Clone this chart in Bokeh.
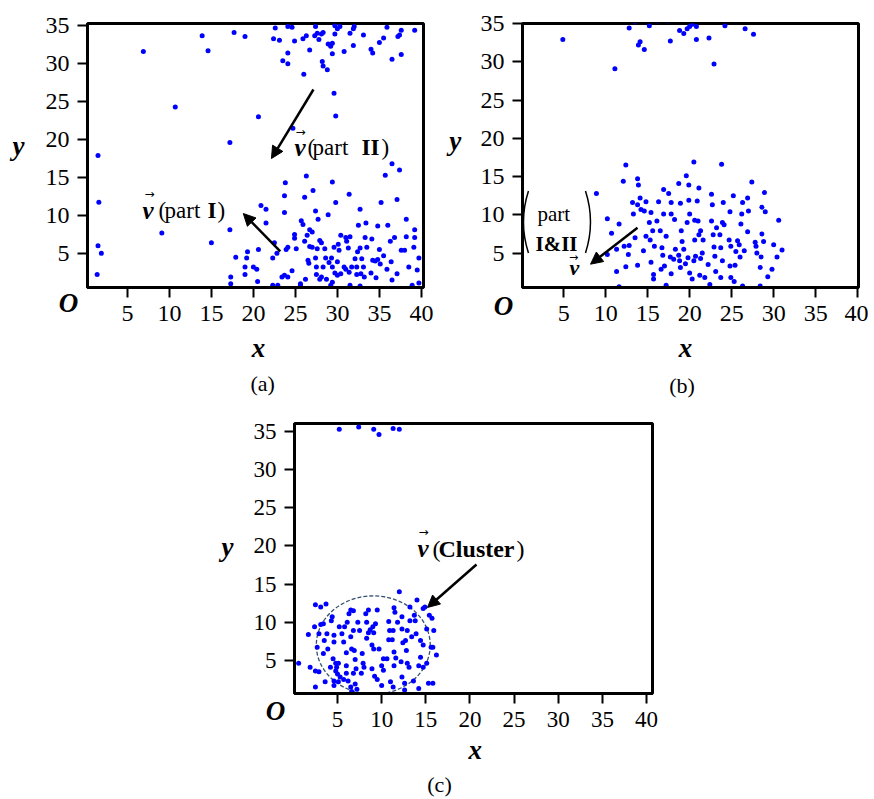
from bokeh.plotting import figure
from bokeh.models import Label, Arrow, NormalHead, FixedTicker, Spacer, ColumnDataSource
from bokeh.layouts import column, row
from bokeh.embed import file_html
from bokeh.resources import INLINE

# ---------------- data ----------------
X_TICKS = [5, 10, 15, 20, 25, 30, 35, 40]
Y_TICKS = [5, 10, 15, 20, 25, 30, 35]

# panel (a)
a_outliers = [(1.5, 17.9), (1.6, 11.75), (1.5, 6.0), (1.9, 5.0), (1.4, 2.2), (6.9, 31.6),
              (10.7, 24.3), (9.1, 7.7), (13.9, 33.7), (14.6, 31.7), (15.0, 6.4), (17.7, 34.1),
              (19.0, 33.6), (17.2, 19.6), (17.2, 8.1), (20.6, 23.0), (29.6, 26.1), (29.8, 23.1),
              (24.7, 21.5)]
a_top = [(22.6, 34.7), (23.1, 33.1), (22.4, 33.3), (24.1, 34.9), (24.6, 34.8), (24.9, 33.0),
         (24.1, 31.4), (23.5, 30.4), (24.1, 30.0), (26.0, 28.6), (25.9, 33.3), (26.3, 33.7),
         (26.7, 31.8), (27.3, 33.7), (27.6, 34.0), (27.8, 33.2), (28.1, 33.9), (28.3, 34.1),
         (27.4, 34.9), (28.2, 30.3), (28.3, 29.7), (28.8, 29.2), (28.9, 32.6), (29.2, 32.3),
         (29.4, 32.7), (29.4, 31.3), (29.7, 33.9), (30.0, 34.6), (30.3, 34.9), (29.7, 35.0),
         (30.8, 31.6), (31.5, 34.0), (31.9, 34.6), (32.0, 34.9), (31.9, 32.4), (33.1, 33.8),
         (34.0, 31.9), (34.2, 31.4), (35.0, 32.8), (35.5, 33.4), (35.9, 34.8), (36.5, 30.6),
         (37.2, 33.6), (37.4, 33.8), (37.6, 34.4), (37.6, 31.2), (39.2, 34.4)]
a_low = [(20.9, 11.3), (21.5, 10.8), (21.5, 9.0), (23.8, 14.3), (23.7, 12.6), (23.7, 10.4),
         (26.3, 15.2), (26.1, 12.4), (27.1, 13.3), (27.4, 10.6), (27.7, 9.5), (28.9, 10.1),
         (29.4, 14.4), (29.8, 11.7), (31.4, 12.8), (32.7, 10.8), (33.4, 9.0), (35.2, 11.7),
         (35.7, 15.3), (36.5, 16.8), (37.4, 16.0), (37.1, 12.1), (38.2, 9.5), (39.2, 8.1),
         (34.8, 8.6), (36.0, 8.7), (32.5, 8.7), (25.7, 9.3), (25.9, 8.8), (26.7, 8.1),
         (27.0, 7.8), (27.6, 5.6), (24.9, 7.5), (24.9, 7.0), (25.1, 5.6), (26.1, 6.6),
         (26.4, 7.4), (26.7, 5.9), (27.0, 5.8), (27.9, 6.7), (28.1, 6.4), (28.5, 5.6),
         (28.6, 4.4), (27.4, 4.4), (27.5, 3.2), (26.6, 3.7), (26.5, 4.1), (28.3, 3.2),
         (28.1, 1.9), (29.0, 3.8), (29.3, 4.4), (29.4, 3.2), (29.7, 2.4), (30.0, 3.9),
         (30.2, 5.4), (30.1, 6.2), (30.4, 7.4), (31.0, 7.1), (31.1, 6.6), (31.5, 7.2),
         (31.3, 5.7), (30.8, 3.2), (31.0, 2.9), (31.4, 2.5), (31.7, 3.2), (32.1, 4.3),
         (32.3, 3.2), (32.4, 5.2), (32.7, 5.7), (32.9, 4.3), (33.3, 7.1), (33.5, 5.8),
         (33.1, 3.2), (32.8, 2.3), (33.2, 1.9), (34.1, 6.9), (34.2, 4.1), (34.5, 4.0),
         (34.8, 4.2), (35.1, 3.6), (34.6, 1.8), (34.0, 2.4), (35.0, 5.5), (35.5, 4.7),
         (35.9, 2.9), (36.3, 6.6), (36.4, 3.9), (36.8, 7.1), (37.1, 2.3), (36.5, 1.5),
         (37.6, 5.4), (38.0, 5.4), (38.2, 7.2), (38.5, 3.2), (39.2, 7.1), (39.1, 5.8),
         (39.5, 2.8), (39.7, 4.4), (39.7, 1.1), (38.9, 0.8), (31.5, 0.8), (32.7, 0.7),
         (29.2, 0.8), (29.4, 1.2), (25.6, 1.0), (25.6, 0.8), (24.6, 2.7), (24.1, 1.9),
         (23.7, 2.1), (23.4, 1.9), (22.9, 0.8), (22.3, 0.8), (22.3, 4.4), (22.8, 5.0),
         (23.9, 5.5), (24.1, 5.8), (22.5, 6.4), (20.6, 5.5), (19.3, 5.2), (19.2, 4.4),
         (17.9, 4.5), (19.0, 3.2), (20.0, 3.2), (20.4, 2.9), (19.0, 2.2), (20.5, 1.3),
         (17.3, 1.9), (17.3, 1.0), (27.5, 2.2), (27.9, 1.6), (26.2, 1.6), (28.7, 1.6),
         (30.0, 2.1), (30.4, 2.3), (32.3, 2.2), (29.6, 5.8)]

# panel (b)
b_top = [(4.9, 32.9), (11.1, 29.1), (12.8, 34.4), (14.1, 32.6), (13.9, 32.2), (14.6, 31.6),
         (15.2, 34.7), (16.2, 35.3), (17.7, 32.7), (18.8, 34.1), (19.3, 33.7), (19.7, 34.3),
         (20.0, 34.6), (20.3, 34.9), (20.8, 34.6), (20.8, 32.9), (22.3, 33.1), (22.9, 29.7),
         (24.2, 34.7), (26.6, 34.3), (27.6, 33.6), (13.5, 35.2), (17.4, 35.3)]
b_low = [(8.9, 12.8), (10.2, 9.5), (10.7, 7.6), (11.6, 8.8), (11.3, 5.5), (10.2, 4.8),
         (11.3, 2.6), (11.6, 0.6), (12.1, 14.4), (12.4, 16.5), (12.2, 5.9), (12.4, 3.2),
         (12.7, 4.8), (12.8, 6.0), (13.2, 11.6), (13.3, 10.1), (13.5, 7.0), (13.8, 14.7),
         (13.9, 13.9), (13.8, 11.3), (14.1, 12.2), (14.2, 10.7), (14.6, 10.5), (14.8, 7.2),
         (14.5, 5.3), (13.8, 3.4), (14.8, 11.7), (15.4, 10.3), (15.2, 9.0), (15.6, 7.9),
         (15.3, 6.7), (15.8, 5.9), (15.4, 3.8), (15.7, 2.2), (15.7, 1.6), (16.3, 11.7),
         (16.1, 9.2), (16.5, 7.9), (16.7, 5.7), (16.9, 13.3), (16.9, 10.1), (17.2, 7.2),
         (17.5, 12.8), (17.8, 11.6), (17.8, 10.1), (16.8, 4.7), (17.0, 3.3), (16.6, 2.9),
         (17.2, 0.8), (17.7, 4.5), (17.8, 2.3), (18.1, 4.2), (18.3, 5.5), (18.7, 14.1),
         (18.9, 11.5), (19.0, 7.9), (19.1, 6.5), (19.3, 5.5), (19.6, 15.1), (19.9, 13.9),
         (19.9, 11.9), (19.7, 9.0), (20.0, 10.1), (18.7, 4.7), (18.8, 4.0), (18.9, 3.1),
         (19.5, 3.6), (19.8, 4.4), (20.0, 2.4), (20.3, 1.6), (20.5, 4.0), (20.7, 4.6),
         (20.5, 16.9), (20.6, 9.3), (21.0, 9.2), (21.1, 13.5), (20.9, 11.8), (21.3, 7.9),
         (21.1, 7.4), (21.6, 6.7), (21.5, 5.0), (21.3, 4.3), (21.2, 2.1), (21.8, 1.8),
         (22.4, 0.9), (22.2, 3.5), (22.6, 12.7), (22.7, 11.3), (22.6, 9.2), (22.8, 7.4),
         (22.9, 5.8), (23.1, 2.6), (23.0, 4.6), (23.8, 16.6), (24.0, 11.6), (23.9, 9.0),
         (24.1, 8.7), (23.6, 7.4), (23.7, 5.7), (23.7, 1.8), (23.9, 4.0), (24.8, 10.4),
         (24.7, 6.7), (24.9, 5.9), (24.8, 3.3), (24.9, 1.8), (25.3, 1.3), (25.2, 12.5),
         (25.4, 3.4), (25.7, 6.6), (25.5, 5.2), (25.9, 6.1), (26.2, 10.1), (26.1, 8.8),
         (26.3, 11.6), (26.0, 4.5), (26.5, 5.3), (26.3, 0.7), (26.9, 12.2), (27.0, 10.5),
         (26.9, 7.8), (27.4, 14.3), (27.8, 6.4), (27.9, 5.9), (28.0, 5.0), (28.4, 3.1),
         (28.6, 11.0), (28.6, 7.5), (28.8, 6.5), (28.9, 12.9), (29.0, 10.4), (29.3, 1.9),
         (28.4, 0.7), (28.5, 4.5), (29.8, 2.9), (30.0, 6.1), (30.4, 4.5), (30.6, 9.3),
         (31.0, 5.4), (18.2, 9.4), (20.6, 6.7), (23.2, 8.3)]

# panel (c)
c_top = [(5.2, 35.3), (7.4, 35.6), (9.1, 35.3), (9.7, 34.6), (11.3, 35.4), (12.0, 35.3)]
c_low = [(0.6, 4.6), (1.7, 8.4), (2.5, 12.3), (3.1, 12.0), (3.7, 12.4), (2.4, 9.4),
         (3.1, 9.7), (2.9, 8.5), (2.7, 6.7), (1.9, 4.1), (2.5, 3.6), (2.9, 3.5), (2.5, 1.5),
         (3.6, 2.2), (3.4, 5.9), (3.5, 7.6), (3.9, 6.5), (3.8, 8.5), (3.4, 9.8), (4.4, 10.7),
         (4.3, 10.2), (4.6, 8.3), (4.6, 7.4), (4.5, 5.2), (4.8, 4.6), (4.9, 4.1), (4.8, 3.6),
         (5.1, 4.6), (5.0, 3.2), (5.3, 2.8), (4.6, 2.3), (5.1, 2.2), (5.2, 9.4), (5.5, 8.5),
         (5.7, 7.4), (5.8, 9.4), (6.1, 10.0), (6.0, 6.0), (6.0, 4.3), (6.0, 3.3), (5.7, 2.5),
         (6.2, 2.3), (6.5, 1.5), (6.6, 0.9), (6.3, 11.1), (6.5, 11.6), (6.8, 11.5), (6.5, 8.1),
         (6.8, 8.9), (6.6, 6.5), (6.9, 6.3), (7.0, 5.1), (7.1, 3.9), (6.8, 3.3), (7.0, 1.9),
         (7.2, 1.2), (7.3, 10.0), (7.5, 8.9), (7.8, 5.9), (7.9, 4.6), (8.0, 4.1), (7.7, 3.3),
         (8.2, 11.1), (8.3, 10.0), (8.5, 8.6), (8.3, 7.9), (8.5, 11.6), (8.7, 9.0), (9.0, 9.4),
         (9.1, 8.6), (9.3, 9.8), (8.9, 7.0), (9.1, 6.5), (9.7, 6.5), (8.9, 3.9), (9.2, 2.9),
         (9.5, 2.5), (10.0, 4.3), (10.2, 5.2), (10.6, 5.2), (9.5, 11.6), (10.2, 3.7),
         (10.0, 1.7), (10.8, 10.1), (10.9, 8.9), (10.8, 7.7), (11.2, 7.7), (11.0, 2.2),
         (11.3, 1.5), (11.4, 11.9), (11.5, 11.3), (11.3, 8.9), (11.4, 6.1), (11.4, 4.3),
         (11.6, 5.3), (11.8, 10.0), (12.0, 14.0), (12.3, 10.7), (12.3, 9.1), (12.4, 7.3),
         (12.2, 4.8), (12.3, 2.8), (12.6, 2.0), (12.6, 1.1), (12.9, 8.9), (12.7, 7.6),
         (12.8, 6.3), (12.9, 4.6), (13.1, 4.1), (13.2, 10.2), (13.2, 12.0), (13.4, 8.1),
         (13.7, 10.9), (13.8, 10.2), (13.9, 8.5), (14.0, 12.9), (13.6, 2.3), (14.2, 1.3),
         (14.4, 7.6), (14.4, 5.4), (14.7, 4.1), (14.7, 11.8), (14.9, 12.0), (15.1, 9.1),
         (15.4, 10.9), (15.7, 10.5), (15.9, 8.9), (15.6, 6.7), (15.8, 6.7), (16.2, 5.7),
         (15.1, 4.6), (15.3, 2.0), (15.8, 2.0), (14.7, 7.0), (14.2, 4.3), (4.2, 4.1), (4.6, 1.7)]

# cluster circle in panel (c)
c_circle_center = (9.05, 7.0)
c_circle_diameter = 12.9

# ---------------- styling helpers ----------------
SERIF = "Liberation Serif"
DOT = "#0000ff"


def make_fig(width, height, xr, yr, bl, br, bt, bb, tick_size):
    p = figure(width=width, height=height, x_range=xr, y_range=yr,
               min_border_left=bl, min_border_right=br, min_border_top=bt, min_border_bottom=bb,
               toolbar_location=None, tools="", output_backend="svg", title=None)
    p.grid.visible = False
    p.outline_line_color = "black"
    p.outline_line_width = 3
    p.outline_line_alpha = 1.0
    p.background_fill_color = "white"
    p.border_fill_color = "white"
    for ax in (p.xaxis[0], p.yaxis[0]):
        ax.axis_line_width = 3
        ax.axis_line_color = "black"
        ax.major_tick_out = 10
        ax.major_tick_in = 0
        ax.major_tick_line_width = 2
        ax.minor_tick_out = 0
        ax.minor_tick_in = 0
        ax.major_label_text_font = SERIF
        ax.major_label_text_font_size = tick_size
        ax.major_label_text_color = "black"
        ax.major_label_standoff = 8
    p.xaxis[0].ticker = FixedTicker(ticks=X_TICKS)
    p.yaxis[0].ticker = FixedTicker(ticks=Y_TICKS)
    return p


def lab(p, x, y, text, size, style="normal", align="left", baseline="alphabetic",
        font=SERIF, side=None):
    lbl = Label(x=x, y=y, text=text, text_font=font, text_font_size=size,
                text_font_style=style, text_align=align, text_baseline=baseline,
                text_color="black")
    if side is None:
        p.add_layout(lbl)
    else:
        p.add_layout(lbl, side)


def vec(p, x, y, size="12px"):
    lab(p, x, y, "\u2192", size, align="center", baseline="middle", font="DejaVu Sans")


def arrow(p, x0, y0, x1, y1):
    p.add_layout(Arrow(end=NormalHead(size=12, fill_color="black", line_color="black"),
                       x_start=x0, y_start=y0, x_end=x1, y_end=y1,
                       line_color="black", line_width=2.5))


def dots(p, pts):
    src = ColumnDataSource(dict(x=[q[0] for q in pts], y=[q[1] for q in pts]))
    p.scatter("x", "y", source=src, size=5, color=DOT, line_color=None)


def outer(p, o_xy, x_xy, y_xy, cap_xy, cap_text):
    lab(p, o_xy[0], o_xy[1], "O", "27px", "bold italic", "center", "middle", side="left")
    lab(p, y_xy[0], y_xy[1], "y", "27px", "bold italic", "center", "middle", side="left")
    lab(p, x_xy[0], x_xy[1], "x", "27px", "bold italic", "center", "middle", side="below")
    lab(p, cap_xy[0], cap_xy[1], cap_text, "22px", "normal", "center", "middle", side="below")


# ---------------- panel (a) ----------------
pa = make_fig(440, 400, (0.25, 40.25), (0.5, 35.3), 87, 17, 23, 113, "24px")
for grp in (a_outliers, a_top, a_low):
    dots(pa, grp)
arrow(pa, 27.15, 26.6, 22.15, 17.5)
arrow(pa, 23.2, 5.25, 18.8, 10.25)
# v(part II)
lab(pa, 24.89, 18.96, "v", "25px", "bold italic")
vec(pa, 25.6, 21.06)
lab(pa, 26.44, 18.96, "(", "23px")
lab(pa, 27.04, 18.96, "part", "23px")
lab(pa, 32.87, 18.96, "II", "23px", "bold")
lab(pa, 35.25, 18.96, ")", "23px")
# v(part I)
lab(pa, 6.8, 10.65, "v", "25px", "bold italic")
vec(pa, 7.63, 12.76)
lab(pa, 8.7, 10.65, "(", "23px")
lab(pa, 9.42, 10.65, "part", "23px")
lab(pa, 14.54, 10.65, "I", "23px", "bold")
lab(pa, 15.73, 10.65, ")", "23px")
outer(pa, (-2.0, -1.6), (20.6, -7.5), (-7.96, 19.2), (21.1, -12.2), "(a)")

# ---------------- panel (b) ----------------
pb = make_fig(428, 400, (0.1, 40.1), (0.5, 35.0), 82, 10, 23, 113, "24px")
for grp in (b_top, b_low):
    dots(pb, grp)
arrow(pb, 13.79, 8.32, 8.2, 3.55)
pb.quadratic(x0=[0.81], y0=[13.1], x1=[0.81], y1=[5.0], cx=[-0.38], cy=[9.05],
             line_color="black", line_width=1.5)
pb.quadratic(x0=[7.6], y0=[13.1], x1=[7.6], y1=[5.0], cx=[8.79], cy=[9.05],
             line_color="black", line_width=1.5)
lab(pb, 1.89, 10.05, "part", "21px")
lab(pb, 1.65, 6.2, "I&II", "21px", "bold")
lab(pb, 5.7, 3.15, "v", "22px", "bold italic")
vec(pb, 6.17, 4.48, "11px")
outer(pb, (-2.16, -1.9), (19.5, -7.45), (-7.9, 19.6), (19.1, -12.3), "(b)")

# ---------------- panel (c) ----------------
pc = make_fig(462, 398, (0.13, 40.67), (0.65, 36.05), 84, 20, 23, 105, "23px")
pc.ellipse(x=[c_circle_center[0]], y=[c_circle_center[1]], width=c_circle_diameter,
           height=c_circle_diameter, fill_color=None, line_color="#34506e",
           line_width=1.3, line_dash="4 2")
for grp in (c_top, c_low):
    dots(pc, grp)
arrow(pc, 20.74, 17.56, 15.19, 11.93)
lab(pc, 14.06, 19.66, "v", "25px", "bold italic")
vec(pc, 14.74, 21.89)
lab(pc, 15.76, 19.66, "(", "24px")
lab(pc, 16.44, 19.66, "Cluster", "24px", "bold")
lab(pc, 25.27, 19.66, ")", "24px")
outer(pc, (-2.02, -1.58), (20.6, -6.8), (-7.46, 19.8), (16.55, -11.3), "(c)")

layout = column(row(pa, pb), row(Spacer(width=210, height=398), pc))

open("out.html", "w").write(file_html(layout, INLINE))
